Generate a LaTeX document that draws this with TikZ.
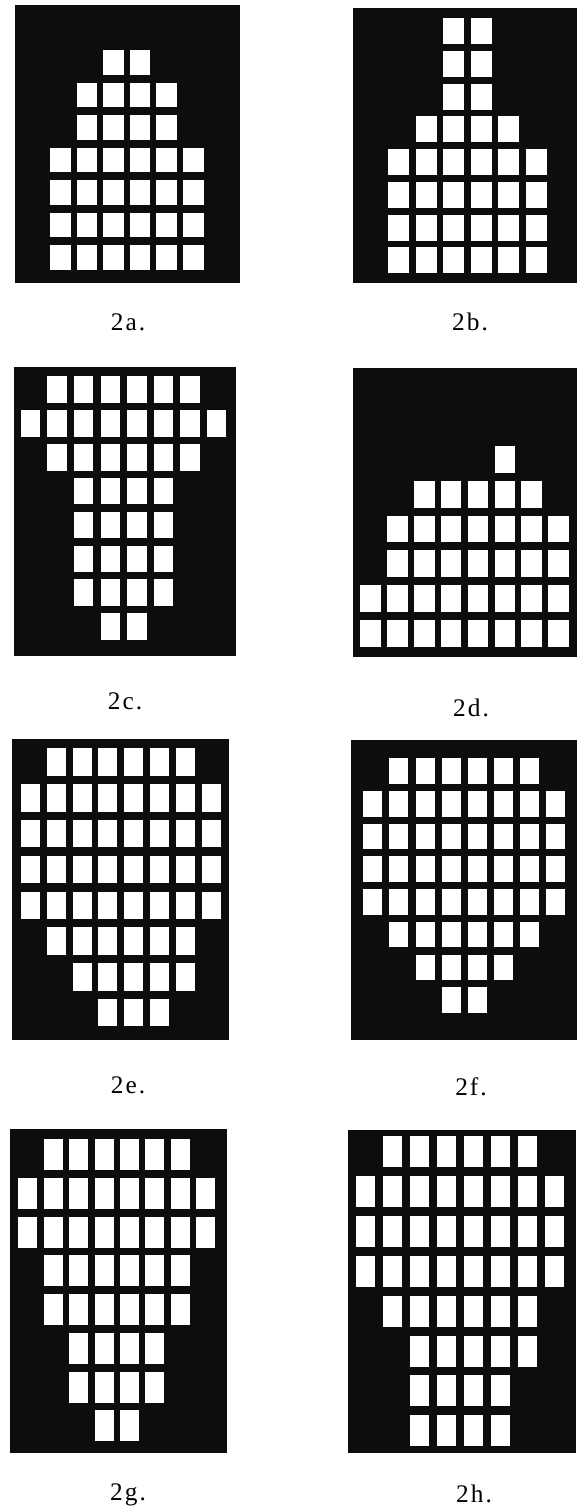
\documentclass[tikz,border=0pt]{standalone}
\usepackage{fontspec}
\setmainfont{Liberation Serif}
\newfontfamily\lblfont[LetterSpace=8]{Liberation Serif}

\begin{document}
\begin{tikzpicture}[x=0.75pt,y=-0.75pt,
  panel/.style={fill=black!95},
  cell/.style={fill=white},
  lbl/.style={anchor=base,inner sep=0pt,font=\lblfont\fontsize{19}{22}\selectfont}]
  \useasboundingbox (0,0) rectangle (578,1510);
  % panel 2a
  \fill[panel] (15,5) rectangle (240,283);
  \begin{scope}[shift={(23.4,17.5)}]
    \foreach \r/\a/\b in {1/3/4,2/2/5,3/2/5,4/1/6,5/1/6,6/1/6,7/1/6}
      \foreach \c in {\a,...,\b}
        \fill[cell] (26.6*\c,32.5*\r) rectangle ++(20.5,24.5);
  \end{scope}
  \node[lbl] (l2a) at (128,330) {2a.};
  % panel 2b
  \fill[panel] (353,8) rectangle (577,283);
  \begin{scope}[shift={(360.4,18.3)}]
    \foreach \r/\a/\b in {0/3/4,1/3/4,2/3/4,3/2/5,4/1/6,5/1/6,6/1/6,7/1/6}
      \foreach \c in {\a,...,\b}
        \fill[cell] (27.6*\c,32.7*\r) rectangle ++(21,26);
  \end{scope}
  \node[lbl] (l2b) at (470,330) {2b.};
  % panel 2c
  \fill[panel] (14,367) rectangle (236,656);
  \begin{scope}[shift={(20.7,376)}]
    \foreach \r/\a/\b in {0/1/6,1/0/7,2/1/6,3/2/5,4/2/5,5/2/5,6/2/5,7/3/4}
      \foreach \c in {\a,...,\b}
        \fill[cell] (26.6*\c,33.9*\r) rectangle ++(19.5,26.7);
  \end{scope}
  \node[lbl] (l2c) at (125,709) {2c.};
  % panel 2d
  \fill[panel] (353,368) rectangle (577,657);
  \begin{scope}[shift={(360,376.4)}]
    \foreach \r/\a/\b in {2/5/5,3/2/6,4/1/7,5/1/7,6/0/7,7/0/7}
      \foreach \c in {\a,...,\b}
        \fill[cell] (26.9*\c,34.8*\r) rectangle ++(20.7,26.7);
  \end{scope}
  \node[lbl] (l2d) at (471,716) {2d.};
  % panel 2e
  \fill[panel] (12,739) rectangle (229,1040);
  \begin{scope}[shift={(20.7,748.3)}]
    \foreach \r/\a/\b in {0/1/6,1/0/7,2/0/7,3/0/7,4/0/7,5/1/6,6/2/6,7/3/5}
      \foreach \c in {\a,...,\b}
        \fill[cell] (25.9*\c,35.8*\r) rectangle ++(19,27.5);
  \end{scope}
  \node[lbl] (l2e) at (128,1093) {2e.};
  % panel 2f
  \fill[panel] (351,740) rectangle (577,1040);
  \begin{scope}[shift={(363.3,758.3)}]
    \foreach \r/\a/\b in {0/1/6,1/0/7,2/0/7,3/0/7,4/0/7,5/1/6,6/2/5,7/3/4}
      \foreach \c in {\a,...,\b}
        \fill[cell] (26.1*\c,32.7*\r) rectangle ++(19,25.5);
  \end{scope}
  \node[lbl] (l2f) at (471,1095) {2f.};
  % panel 2g
  \fill[panel] (10,1129) rectangle (227,1453);
  \begin{scope}[shift={(18.3,1139.3)}]
    \foreach \r/\a/\b in {0/1/6,1/0/7,2/0/7,3/1/6,4/1/6,5/2/5,6/2/5,7/3/4}
      \foreach \c in {\a,...,\b}
        \fill[cell] (25.4*\c,38.7*\r) rectangle ++(19,31);
  \end{scope}
  \node[lbl] (l2g) at (128,1500) {2g.};
  % panel 2h
  \fill[panel] (348,1130) rectangle (576,1453);
  \begin{scope}[shift={(356.3,1136)}]
    \foreach \r/\a/\b in {0/1/6,1/0/7,2/0/7,3/0/7,4/1/6,5/2/6,6/2/5,7/2/5}
      \foreach \c in {\a,...,\b}
        \fill[cell] (26.9*\c,39.9*\r) rectangle ++(19,31);
  \end{scope}
  \node[lbl] (l2h) at (474,1502) {2h.};
\end{tikzpicture}
\end{document}
